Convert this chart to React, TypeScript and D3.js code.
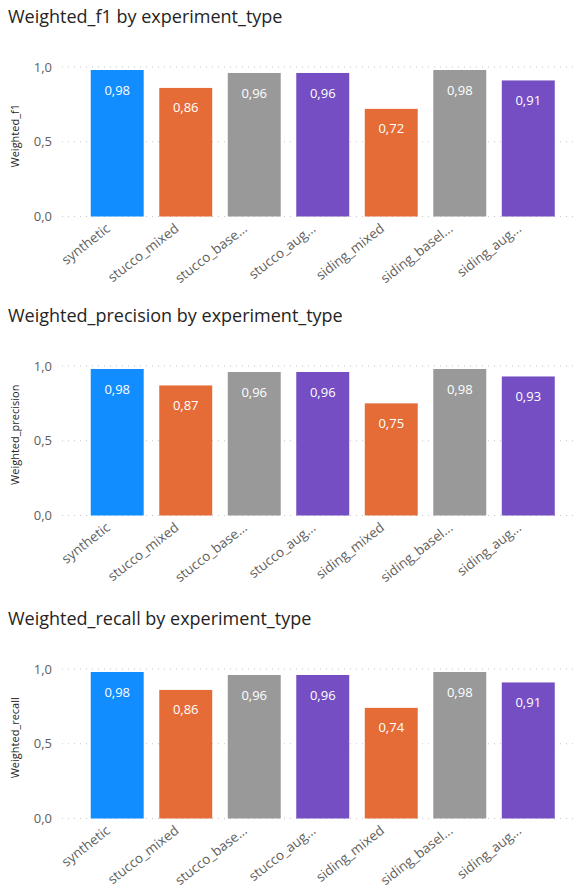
import React, { useEffect, useRef } from 'react';
import * as d3 from 'd3';

const categories = ['synthetic', 'stucco_mixed', 'stucco_base...', 'stucco_aug...', 'siding_mixed', 'siding_basel...', 'siding_aug...'];
const barColors = ['#118DFF', '#E66C37', '#999999', '#744EC2', '#E66C37', '#999999', '#744EC2'];
const f1Values = [0.98, 0.86, 0.96, 0.96, 0.72, 0.98, 0.91];
const precisionValues = [0.98, 0.87, 0.96, 0.96, 0.75, 0.98, 0.93];
const recallValues = [0.98, 0.86, 0.96, 0.96, 0.74, 0.98, 0.91];
const yTicks = [0, 0.5, 1];

const panels = [
  { title: 'Weighted_f1 by experiment_type', axisTitle: 'Weighted_f1', values: f1Values, top: 0 },
  { title: 'Weighted_precision by experiment_type', axisTitle: 'Weighted_precision', values: precisionValues, top: 299 },
  { title: 'Weighted_recall by experiment_type', axisTitle: 'Weighted_recall', values: recallValues, top: 602 },
];

const fmt = (v: number) => v.toFixed(2).replace('.', ',');
const tickFmt = (v: number) => v.toFixed(1).replace('.', ',');

export default function App() {
  const svgRef = useRef<SVGSVGElement>(null);

  useEffect(() => {
    if (!svgRef.current) return;
    const svg = d3.select(svgRef.current);
    svg.selectAll('*').remove();

    const font = "'Segoe UI', 'Open Sans', sans-serif";

    panels.forEach(p => {
      const g = svg.append('g').attr('transform', `translate(0,${p.top})`);

      const x = d3.scaleBand<string>().domain(categories).range([83, 562.5]).paddingInner(0.227).paddingOuter(0.113);
      const y = d3.scaleLinear().domain([0, 1]).range([216.5, 67]);

      // title
      g.append('text')
        .attr('x', 8)
        .attr('y', 23)
        .attr('font-family', "'Open Sans', sans-serif")
        .attr('font-size', 18)
        .attr('fill', '#252423')
        .text(p.title);

      // gridlines
      g.selectAll('.grid')
        .data(yTicks)
        .enter()
        .append('line')
        .attr('x1', 62)
        .attr('x2', 578)
        .attr('y1', d => y(d))
        .attr('y2', d => y(d))
        .attr('stroke', '#C8C6C4')
        .attr('stroke-width', 1)
        .attr('stroke-dasharray', '1,5');

      // y tick labels
      g.selectAll('.ytick')
        .data(yTicks)
        .enter()
        .append('text')
        .attr('x', 52)
        .attr('y', d => y(d))
        .attr('dy', '0.35em')
        .attr('text-anchor', 'end')
        .attr('font-family', font)
        .attr('font-size', 13)
        .attr('fill', '#605E5C')
        .text(d => tickFmt(d));

      // y axis title
      g.append('text')
        .attr('transform', `translate(15,${(y(0) + y(1)) / 2 - 6}) rotate(-90)`)
        .attr('text-anchor', 'middle')
        .attr('dy', '0.35em')
        .attr('font-family', font)
        .attr('font-size', 11)
        .attr('fill', '#252423')
        .text(p.axisTitle);

      // bars
      g.selectAll('.bar')
        .data(p.values)
        .enter()
        .append('rect')
        .attr('x', (_, i) => x(categories[i])!)
        .attr('y', d => y(d))
        .attr('width', x.bandwidth())
        .attr('height', d => y(0) - y(d))
        .attr('fill', (_, i) => barColors[i]);

      // data labels
      g.selectAll('.dlabel')
        .data(p.values)
        .enter()
        .append('text')
        .attr('x', (_, i) => x(categories[i])! + x.bandwidth() / 2)
        .attr('y', d => y(d) + 20)
        .attr('dy', '0.35em')
        .attr('text-anchor', 'middle')
        .attr('font-family', font)
        .attr('font-size', 13)
        .attr('fill', '#FFFFFF')
        .text(d => fmt(d));

      // x labels
      g.selectAll('.xlabel')
        .data(categories)
        .enter()
        .append('text')
        .attr('transform', d => `translate(${x(d)! + x.bandwidth() / 2 - 9},${y(0) + 10}) rotate(-38)`)
        .attr('text-anchor', 'end')
        .attr('dy', '0.35em')
        .attr('font-family', font)
        .attr('font-size', 13.5)
        .attr('fill', '#605E5C')
        .text(d => d);
    });
  }, []);

  return (
    <div style={{ position: 'absolute', left: 0, top: 0, width: 581, height: 890, background: '#FFFFFF' }}>
      <svg ref={svgRef} width={581} height={890} style={{ display: 'block' }} />
    </div>
  );
}
